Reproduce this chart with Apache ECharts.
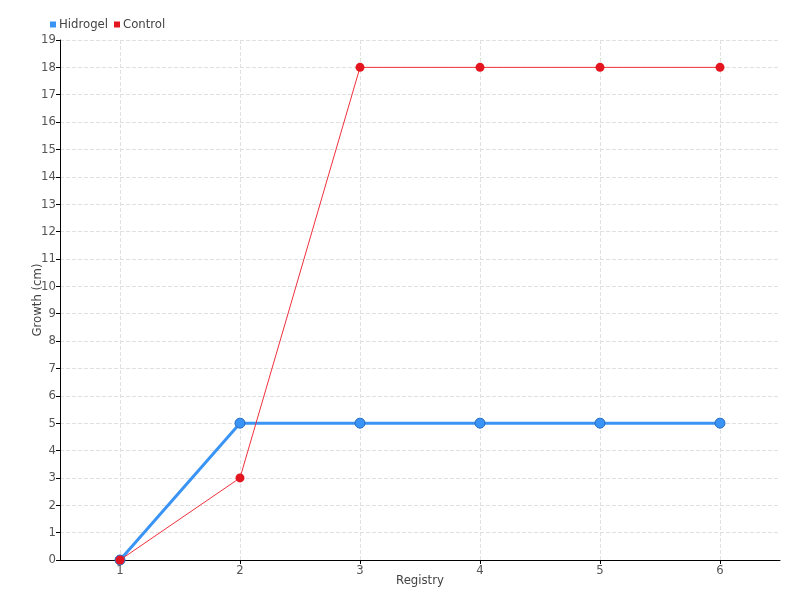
<!DOCTYPE html>
<html><head><meta charset="utf-8">
<script src="https://cdn.jsdelivr.net/npm/echarts@6/dist/echarts.min.js"></script>
<style>html,body{margin:0;padding:0;background:#fff}#c{width:800px;height:600px}</style>
</head><body><div id="c"></div>
<script>
const categories = ['1','2','3','4','5','6'];
const hidrogel = [0,5,5,5,5,5];
const control = [0,3,18,18,18,18];
const seriesNames = ['Hidrogel','Control'];
const FONT = '"DejaVu Sans Condensed","Liberation Sans Narrow","Roboto",sans-serif';
const chart = echarts.init(document.getElementById('c'));
chart.setOption({
  animation:false,
  textStyle:{fontFamily:FONT},
  legend:{left:45,top:13,itemWidth:6,itemHeight:6,itemGap:6,icon:'rect',
    itemStyle:{borderWidth:0},
    textStyle:{fontFamily:FONT,fontSize:13,color:'#444',padding:[0,0,0,-2]},
    data:seriesNames},
  grid:{left:60,right:20,top:40,bottom:40},
  xAxis:{type:'category',data:categories,boundaryGap:true,
    name:'Registry',nameLocation:'middle',nameGap:14,nameMoveOverlap:false,
    nameTextStyle:{fontFamily:FONT,fontSize:13,color:'#444'},
    axisLine:{lineStyle:{color:'#000'}},
    axisTick:{show:true,alignWithLabel:true,length:4,lineStyle:{color:'#000'}},
    axisLabel:{fontFamily:FONT,fontSize:13,color:'#555',margin:4},
    splitLine:{show:true,alignWithLabel:true,lineStyle:{type:'dashed',color:'#e0e0e0'}}},
  yAxis:{type:'value',min:0,max:19,interval:1,
    name:'Growth (cm)',nameLocation:'middle',nameGap:16,nameMoveOverlap:false,
    nameTextStyle:{fontFamily:FONT,fontSize:13,color:'#444'},
    axisLine:{show:true,lineStyle:{color:'#000'}},
    axisTick:{show:true,length:4,lineStyle:{color:'#000'}},
    axisLabel:{fontFamily:FONT,fontSize:13,color:'#555',margin:4},
    splitLine:{show:true,lineStyle:{type:'dashed',color:'#e0e0e0'}}},
  series:[
    {name:'Hidrogel',type:'line',data:hidrogel,symbol:'circle',symbolSize:10,
     lineStyle:{width:3,color:'#3a94f5'},
     itemStyle:{color:'#3a94f5',borderColor:'#2a6ac0',borderWidth:1},z:2},
    {name:'Control',type:'line',data:control,symbol:'circle',symbolSize:9,
     lineStyle:{width:1,color:'#f0303d'},
     itemStyle:{color:'#e3161f',borderColor:'#c01018',borderWidth:0},z:3}
  ]
});
</script></body></html>
